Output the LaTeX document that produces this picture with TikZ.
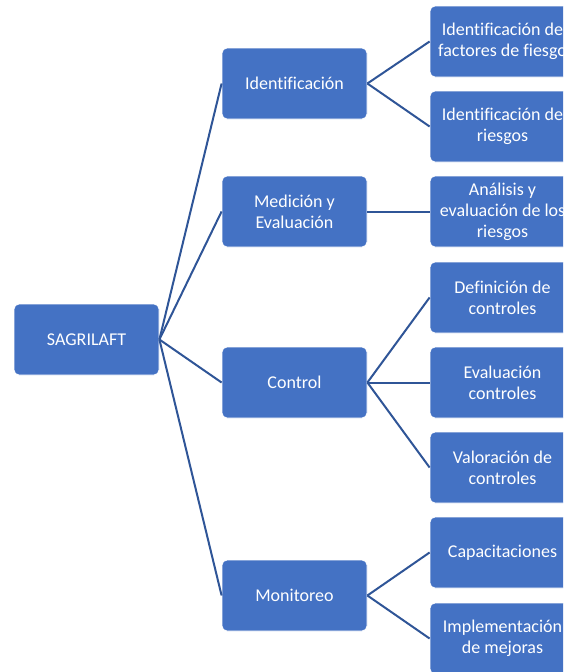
\documentclass[tikz,border=0pt]{standalone}
\usepackage{fontspec}
\setmainfont[Ligatures=CommonOff]{Carlito}
\definecolor{boxblue}{HTML}{4472C4}
\definecolor{lineblue}{HTML}{2F5597}
\tikzset{
  box/.style={draw=white,line width=0.8pt,fill=boxblue,text=white,rounded corners=5pt,
    minimum width=145pt,minimum height=71pt,inner sep=0pt,align=center,
    font=\fontsize{18}{21}\selectfont},
  link/.style={draw=lineblue,line width=2pt}
}
\begin{document}
\begin{tikzpicture}[x=1pt,y=-1pt]
      \useasboundingbox (0,0) rectangle (563,672);
      \clip (0,0) rectangle (563,672);
      % root
      \node [box] (s) at (86.5,339.5) {SAGRILAFT};
      % stages
      \node [box] (1) at (294.5,83.5) {Identificación};
      \node [box] (2) at (294.5,211.5) {Medición y\\Evaluación};
      \node [box] (3) at (294.5,382.5) {Control};
      \node [box] (4) at (294.5,595.5) {Monitoreo};
      % activities
      \node [box] (1a) at (502.5,41.5) {Identificación de\\factores de fiesgo};
      \node [box] (1b) at (502.5,126.5) {Identificación de\\riesgos};
      \node [box] (2a) at (502.5,211.5) {Análisis y\\evaluación de los\\riesgos};
      \node [box] (3a) at (502.5,297.5) {Definición de\\controles};
      \node [box] (3b) at (502.5,382.5) {Evaluación\\controles};
      \node [box] (3c) at (502.5,467.5) {Valoración de\\controles};
      \node [box] (4a) at (502.5,552.5) {Capacitaciones};
      \node [box] (4b) at (502.5,638.5) {Implementación\\de mejoras};

      \foreach \n in {1,2,3,4}
        \draw [link] (s.east) -- (\n.west);
      \draw [link] (1.east) -- (1a.west);
      \draw [link] (1.east) -- (1b.west);
      \draw [link] (2.east) -- (2a.west);
      \draw [link] (3.east) -- (3a.west);
      \draw [link] (3.east) -- (3b.west);
      \draw [link] (3.east) -- (3c.west);
      \draw [link] (4.east) -- (4a.west);
      \draw [link] (4.east) -- (4b.west);
    \end{tikzpicture}
\end{document}
